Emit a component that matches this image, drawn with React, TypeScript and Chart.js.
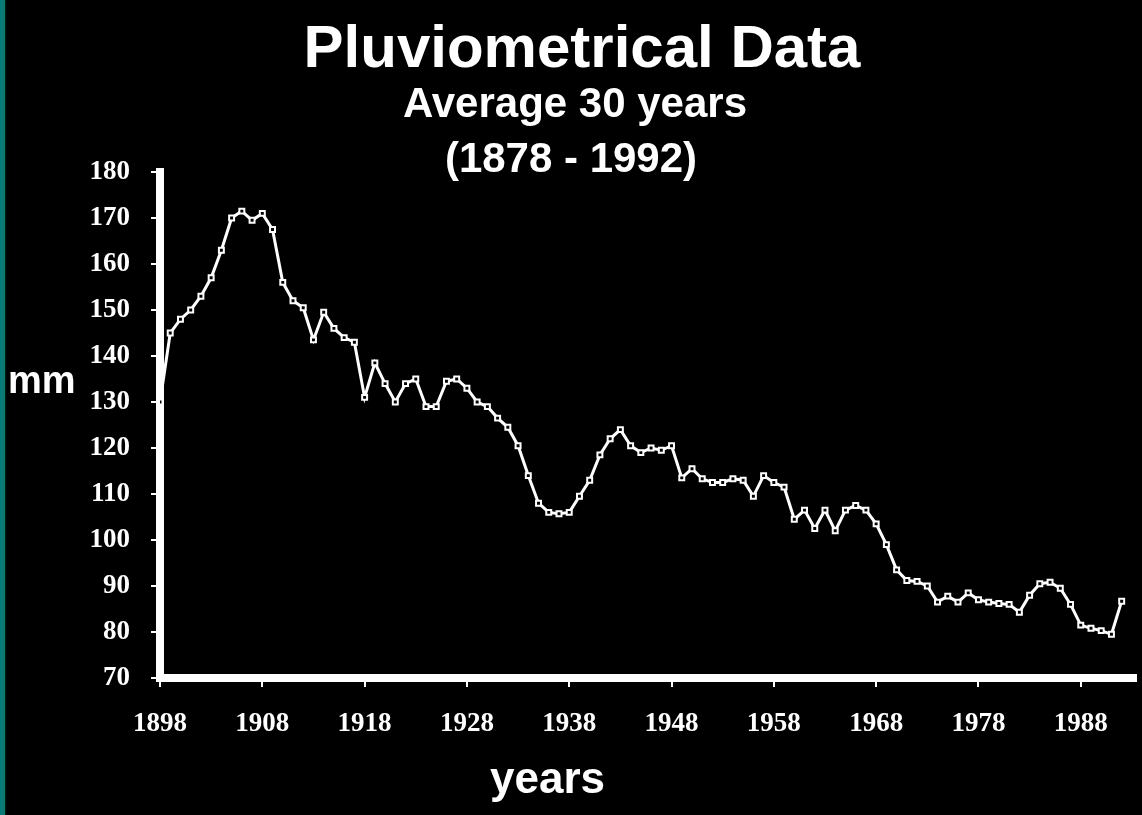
import React, { useEffect, useRef } from 'react';
import { Chart, registerables } from 'chart.js';

Chart.register(...registerables);

const years: number[] = [
  1898, 1899, 1900, 1901, 1902, 1903, 1904, 1905, 1906, 1907,
  1908, 1909, 1910, 1911, 1912, 1913, 1914, 1915, 1916, 1917,
  1918, 1919, 1920, 1921, 1922, 1923, 1924, 1925, 1926, 1927,
  1928, 1929, 1930, 1931, 1932, 1933, 1934, 1935, 1936, 1937,
  1938, 1939, 1940, 1941, 1942, 1943, 1944, 1945, 1946, 1947,
  1948, 1949, 1950, 1951, 1952, 1953, 1954, 1955, 1956, 1957,
  1958, 1959, 1960, 1961, 1962, 1963, 1964, 1965, 1966, 1967,
  1968, 1969, 1970, 1971, 1972, 1973, 1974, 1975, 1976, 1977,
  1978, 1979, 1980, 1981, 1982, 1983, 1984, 1985, 1986, 1987,
  1988, 1989, 1990, 1991, 1992,
];

const rainfallMm: number[] = [
  130, 145, 148, 150, 153, 157, 163, 170, 171.5, 169.5,
  171, 167.5, 156, 152, 150.5, 143.5, 149.5, 146, 144, 143,
  131, 138.5, 134, 130, 134, 135, 129, 129, 134.5, 135,
  133, 130, 129, 126.5, 124.5, 120.5, 114, 108, 106, 105.7,
  106, 109.5, 113, 118.5, 122, 124, 120.5, 119, 120, 119.5,
  120.5, 113.5, 115.5, 113.3, 112.5, 112.5, 113.3, 113, 109.5, 114,
  112.5, 111.5, 104.5, 106.5, 102.5, 106.5, 102, 106.5, 107.5, 106.5,
  103.5, 99, 93.5, 91.2, 91, 90, 86.5, 87.8, 86.5, 88.5,
  87, 86.5, 86.2, 86, 84.3, 88, 90.5, 90.8, 89.5, 86,
  81.5, 80.8, 80.3, 79.5, 86.7,
];

const xTickYears: number[] = [1898, 1908, 1918, 1928, 1938, 1948, 1958, 1968, 1978, 1988];
const yMin = 70;
const yMax = 180;
const yStep = 10;

const titleText = 'Pluviometrical Data';
const subtitleLines: string[] = ['Average 30 years', '(1878 - 1992)'];
const yAxisLabel = 'mm';
const xAxisLabel = 'years';

const W = 1142;
const H = 815;

export default function App() {
  const ref = useRef<HTMLCanvasElement>(null);

  useEffect(() => {
    if (!ref.current) return;
    const tickFont = { family: '"Liberation Serif", "DejaVu Serif", serif', size: 27, weight: 'bold' as const };
    const chart = new Chart(ref.current, {
      type: 'line',
      data: {
        datasets: [
          {
            data: years.map((y, i) => ({ x: y, y: rainfallMm[i] })),
            borderColor: '#ffffff',
            borderWidth: 3,
            pointStyle: 'rect',
            pointRadius: 3.5,
            pointBorderWidth: 2,
            pointBackgroundColor: '#000000',
            pointBorderColor: '#ffffff',
            tension: 0,
            fill: false,
          },
        ],
      },
      options: {
        responsive: false,
        animation: false,
        layout: { padding: { top: 172, left: 0, right: 0, bottom: 0 } },
        plugins: {
          legend: { display: false },
          tooltip: { enabled: false },
          title: { display: false },
        },
        scales: {
          x: {
            type: 'linear',
            min: 1898,
            max: 1993.4,
            afterBuildTicks: (scale: any) => {
              scale.ticks = xTickYears.map((v) => ({ value: v }));
            },
            afterFit: (scale: any) => {
              scale.height = H - 678;
            },
            ticks: {
              color: '#ffffff',
              font: tickFont,
              padding: 21,
              maxRotation: 0,
              autoSkip: false,
              callback: (v: any) => String(v),
            },
            grid: {
              display: true,
              drawOnChartArea: false,
              drawTicks: true,
              tickLength: 9,
              color: '#ffffff',
              lineWidth: 2,
            },
            border: { display: true, color: '#ffffff', width: 8 },
          },
          y: {
            type: 'linear',
            min: yMin,
            max: yMax,
            afterFit: (scale: any) => {
              scale.width = 160;
            },
            ticks: {
              stepSize: yStep,
              color: '#ffffff',
              font: tickFont,
              padding: 21,
            },
            grid: {
              display: true,
              drawOnChartArea: false,
              drawTicks: true,
              tickLength: 9,
              color: '#ffffff',
              lineWidth: 2,
            },
            border: { display: true, color: '#ffffff', width: 8 },
          },
        },
      },
    });
    return () => chart.destroy();
  }, []);

  const sans = '"Liberation Sans", Arial, Helvetica, sans-serif';
  const textBase: React.CSSProperties = {
    position: 'absolute',
    color: '#ffffff',
    fontFamily: sans,
    fontWeight: 'bold',
    whiteSpace: 'nowrap',
  };

  return (
    <div
      style={{
        position: 'absolute',
        left: 0,
        top: 0,
        width: W,
        height: H,
        background: '#000000',
        overflow: 'hidden',
      }}
    >
      <div style={{ position: 'absolute', left: 0, top: 0, width: 5, height: H, background: '#087b74' }} />
      <canvas ref={ref} width={W} height={H} style={{ position: 'absolute', left: 0, top: 0 }} />
      <div style={{ ...textBase, left: 0, width: W, textAlign: 'center', top: 17, fontSize: 60, lineHeight: '60px', paddingLeft: 22, boxSizing: 'border-box' }}>
        {titleText}
      </div>
      <div style={{ ...textBase, left: 0, width: W, textAlign: 'center', top: 82, fontSize: 42, lineHeight: '42px', paddingLeft: 8, boxSizing: 'border-box' }}>
        {subtitleLines[0]}
      </div>
      <div style={{ ...textBase, left: 0, width: W, textAlign: 'center', top: 137, fontSize: 42, lineHeight: '42px', boxSizing: 'border-box' }}>
        {subtitleLines[1]}
      </div>
      <div style={{ ...textBase, left: 8, top: 361, fontSize: 38, lineHeight: '38px' }}>{yAxisLabel}</div>
      <div style={{ ...textBase, left: 490, top: 756, fontSize: 44, lineHeight: '44px' }}>{xAxisLabel}</div>
    </div>
  );
}
